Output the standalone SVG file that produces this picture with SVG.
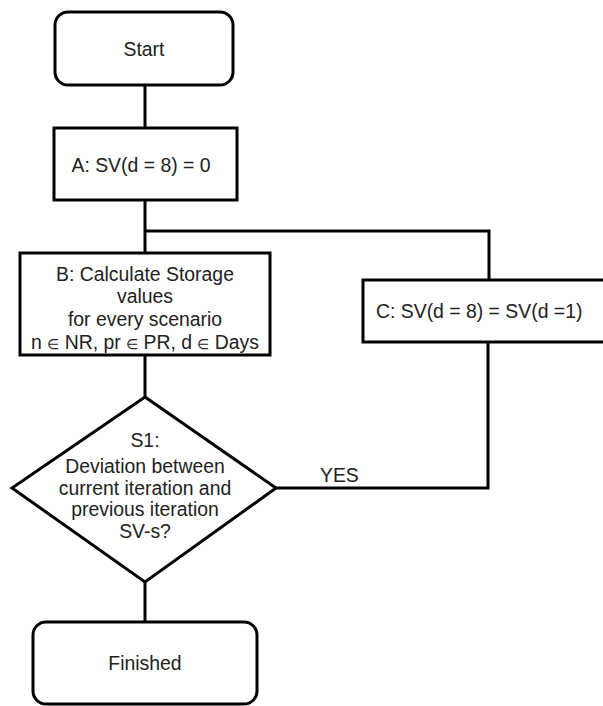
<svg xmlns="http://www.w3.org/2000/svg" width="603" height="706" viewBox="0 0 603 706">
<style>
.s{fill:#fff;stroke:#000;stroke-width:3}
.c{fill:none;stroke:#000;stroke-width:3}
text{font-family:"Liberation Sans",Arial,sans-serif;font-size:19.4px;fill:#222}
.m{text-anchor:middle}
.e{font-size:14px}
</style>
<rect width="603" height="706" fill="#fff"/>
<g id="connectors">
<path class="c" d="M145 85V128"/>
<path class="c" d="M145 200V253"/>
<path class="c" d="M145 231H489V280"/>
<path class="c" d="M145 355V397"/>
<path class="c" d="M145 582V622"/>
<path class="c" d="M488 342V488H276"/>
<text x="320" y="482">YES</text>
</g>
<g id="start">
<rect class="s" x="55" y="12" width="178" height="73" rx="13"/>
<text class="m" x="144" y="56">Start</text>
</g>
<g id="a">
<rect class="s" x="54" y="128" width="183" height="72"/>
<text class="m" x="141" y="172">A: SV(d = 8) = 0</text>
</g>
<g id="b">
<rect class="s" x="20" y="253" width="250" height="102"/>
<text class="m" x="145" y="281">B: Calculate Storage</text>
<text class="m" x="145" y="303">values</text>
<text class="m" x="145" y="326">for every scenario</text>
<text class="m" x="145" y="349">n <tspan class="e">∈</tspan> NR, pr <tspan class="e">∈</tspan> PR, d <tspan class="e">∈</tspan> Days</text>
</g>
<g id="c">
<rect class="s" x="363" y="280" width="243" height="62"/>
<text x="376" y="318">C: SV(d = 8) = SV(d =1)</text>
</g>
<g id="s1">
<polygon class="s" points="145,397 276,488 145,582 12,488"/>
<text class="m" x="145" y="447">S1:</text>
<text class="m" x="145" y="473">Deviation between</text>
<text class="m" x="145" y="495">current iteration and</text>
<text class="m" x="145" y="516">previous iteration</text>
<text class="m" x="145" y="538">SV-s?</text>
</g>
<g id="finished">
<rect class="s" x="33" y="622" width="224" height="82" rx="13"/>
<text class="m" x="145" y="670">Finished</text>
</g>
</svg>
